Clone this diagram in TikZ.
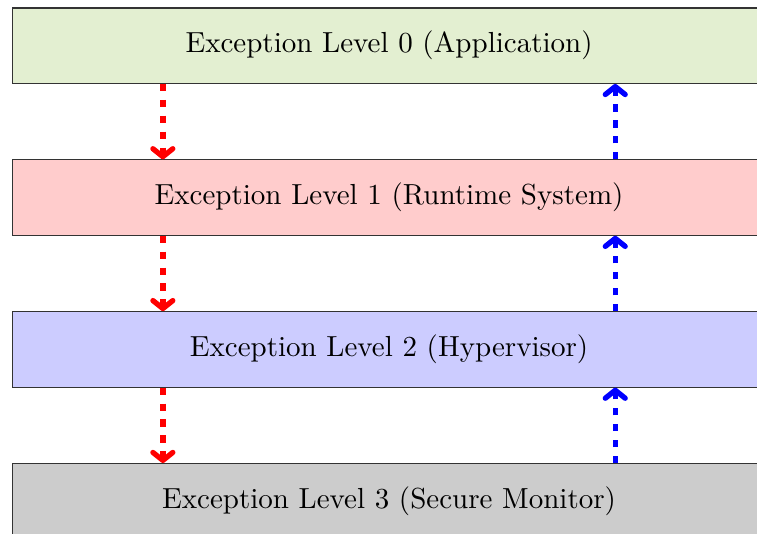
\documentclass[tikz,border=0pt]{standalone}
\usepackage{tikz}
\usetikzlibrary{arrows.meta,positioning}

\definecolor{elgreen}{RGB}{227,239,209}

\tikzset{
  level/.style={draw=black!80,minimum width=10cm,minimum height=1cm,inner sep=0pt,
    font=\fontsize{10.95}{13}\selectfont},
  trap/.style={-{Straight Barb[length=3pt,width=7.5pt,round]},red,line width=2pt,dash pattern=on 2.8pt off 3.2pt},
  eret/.style={-{Straight Barb[length=3pt,width=7.5pt,round]},blue,line width=2pt,dash pattern=on 2.8pt off 3.2pt}
}

\begin{document}
\begin{tikzpicture}[x=1cm,y=1cm]
\clip (-5.16,0.606) rectangle (4.88,-6.464);
\node[level,fill=elgreen] (el0) at (0,0) {Exception Level 0 (Application)};
\node[level,fill=red!20,below=1cm of el0] (el1) {Exception Level 1 (Runtime System)};
\node[level,fill=blue!20,below=1cm of el1] (el2) {Exception Level 2 (Hypervisor)};
\node[level,fill=gray!40,below=1cm of el2] (el3) {Exception Level 3 (Secure Monitor)};
% going down on the left, coming back up on the right
\draw[trap] ([xshift=-3cm]el0.south) -- ([xshift=-3cm]el1.north);
\draw[trap] ([xshift=-3cm]el1.south) -- ([xshift=-3cm]el2.north);
\draw[trap] ([xshift=-3cm]el2.south) -- ([xshift=-3cm]el3.north);
\draw[eret] ([xshift=3cm]el1.north) -- ([xshift=3cm]el0.south);
\draw[eret] ([xshift=3cm]el2.north) -- ([xshift=3cm]el1.south);
\draw[eret] ([xshift=3cm]el3.north) -- ([xshift=3cm]el2.south);
\end{tikzpicture}
\end{document}
